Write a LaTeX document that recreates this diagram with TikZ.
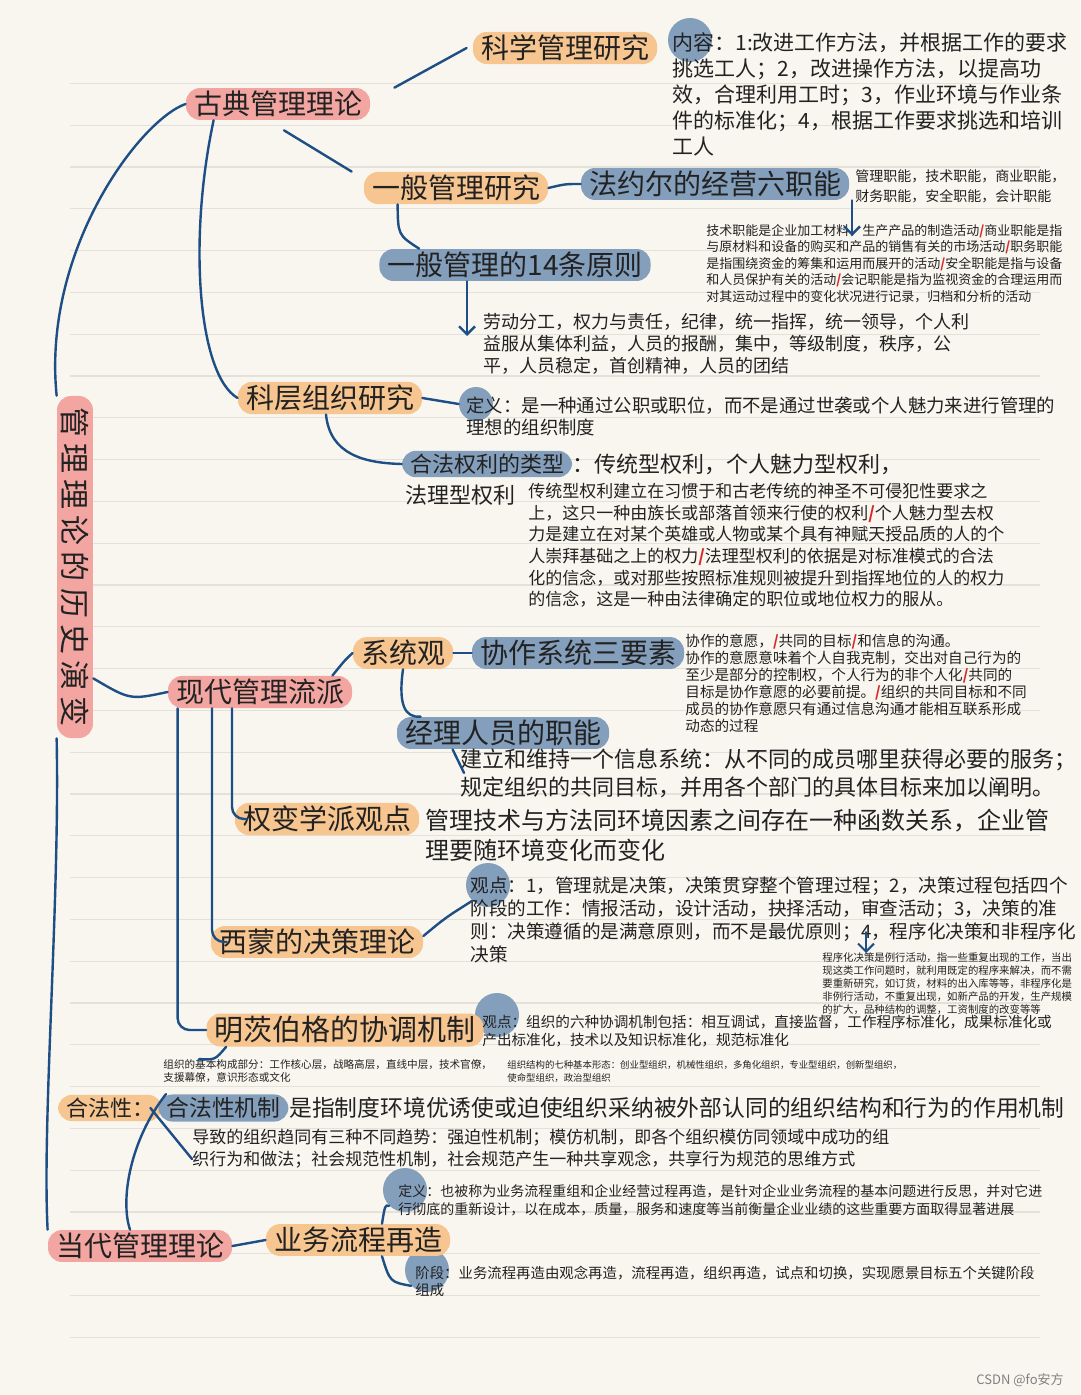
\documentclass[tikz,border=0pt]{standalone}
\usepackage{fontspec}
\setmainfont{Noto Sans CJK SC}
\usepackage{xcolor}
\usetikzlibrary{arrows.meta}
\definecolor{paper}{HTML}{F8F6EE}
\definecolor{ruleline}{HTML}{E3E1DA}
\definecolor{pinkhl}{HTML}{F3A6A1}
\definecolor{orangehl}{HTML}{F6C590}
\definecolor{bluehl}{HTML}{849FBC}
\definecolor{lnblue}{HTML}{1E4E86}
\definecolor{ink}{HTML}{222222}
\definecolor{slashred}{HTML}{D62A2A}
\newcommand{\rs}{\textcolor{slashred}{\textbf{/}}}
\newcommand{\fs}[2]{\fontsize{#1}{#2}\selectfont}

\begin{document}
\begin{tikzpicture}[x=0.5pt, y=-0.5pt,
  hd/.style={rounded corners=7pt, inner xsep=4pt, inner ysep=1.5pt,
             text=ink, font=\fs{14}{14}},
  pk/.style={hd, fill=pinkhl},
  og/.style={hd, fill=orangehl},
  bl/.style={hd, fill=bluehl},
  tx/.style={anchor=north west, inner sep=0pt, align=left, text=ink},
  blob/.style={circle, fill=bluehl, inner sep=0pt, minimum size=22pt},
  ln/.style={draw=lnblue, line width=1.2pt, line cap=round},
  arr/.style={ln, -{Straight Barb[length=4pt,width=8pt]}}]
\useasboundingbox (0,0) rectangle (1080,1395);
\fill[paper] (0,0) rectangle (1080,1395);
\foreach \k in {0,...,30}
  \draw[ruleline, line width=0.6pt] (70,{83.4+41.8*\k}) -- (1040,{83.4+41.8*\k});

% blobs behind the small labels
\node[blob] (nr) at (690,40) {};
\node[blob, minimum size=17pt] (dy1) at (476,404) {};
\node[blob] (gd1) at (488,885) {};
\node[blob] (gd2) at (497,1015) {};
\node[blob] (dy2) at (405,1190) {};
\node[blob] (jd) at (427,1270) {};

\node[pk, rotate=-90, font=\fs{15}{15}\addfontfeatures{LetterSpace=20}, inner xsep=6pt, inner ysep=2pt]
  (title) at (75,567) {管理理论的历史演变};

% classical
\node[pk] (gudian) at (278,104) {古典管理理论};
\node[og] (kexue) at (565,48) {科学管理研究};
\node[tx, font=\fs{10.5}{13}] (nrtext) at (672,32)
  {内容：1:改进工作方法，并根据工作的要求\\挑选工人；2，改进操作方法，以提高功\\效，合理利用工时；3，作业环境与作业条\\件的标准化；4，根据工作要求挑选和培训\\工人};
\node[og] (yiban) at (456,188) {一般管理研究};
\node[bl] (fayol) at (715,184) {法约尔的经营六职能};
\node[tx, font=\fs{7}{10}] (liutext) at (855,169)
  {管理职能，技术职能，商业职能，\\财务职能，安全职能，会计职能};
\node[tx, font=\fs{6.5}{8.2}] (liusmall) at (706,224)
  {技术职能是企业加工材料，生产产品的制造活动\rs 商业职能是指\\与原材料和设备的购买和产品的销售有关的市场活动\rs 职务职能\\是指围绕资金的筹集和运用而展开的活动\rs 安全职能是指与设备\\和人员保护有关的活动\rs 会记职能是指为监视资金的合理运用而\\对其运动过程中的变化状况进行记录，归档和分析的活动};
\node[bl] (yuanze) at (515,265) {一般管理的14条原则};
\node[tx, font=\fs{9}{11}] (yztext) at (483,313)
  {劳动分工，权力与责任，纪律，统一指挥，统一领导，个人利\\益服从集体利益，人员的报酬，集中，等级制度，秩序，公\\平，人员稳定，首创精神，人员的团结};
\node[og] (keceng) at (330,398) {科层组织研究};
\node[tx, font=\fs{9.2}{11}] (dy1text) at (466,397)
  {定义：是一种通过公职或职位，而不是通过世袭或个人魅力来进行管理的\\理想的组织制度};
\node[bl, font=\fs{11}{11}] (hefa) at (487,464) {合法权利的类型};
\node[anchor=west, inner sep=0pt, text=ink, font=\fs{11}{11}] (hefarest) at (hefa.east) {：传统型权利，个人魅力型权利，};
\node[anchor=west, inner sep=0pt, text=ink, font=\fs{11}{11}] (fali) at (405,495) {法理型权利};
\node[tx, font=\fs{8.5}{10.8}] (qltext) at (528,483)
  {传统型权利建立在习惯于和古老传统的神圣不可侵犯性要求之\\上，这只一种由族长或部落首领来行使的权利\rs 个人魅力型去权\\力是建立在对某个英雄或人物或某个具有神赋天授品质的人的个\\人崇拜基础之上的权力\rs 法理型权利的依据是对标准模式的合法\\化的信念，或对那些按照标准规则被提升到指挥地位的人的权力\\的信念，这是一种由法律确定的职位或地位权力的服从。};

% modern
\node[pk] (xiandai) at (260,692) {现代管理流派};
\node[og] (xitong) at (403,653) {系统观};
\node[bl] (xiezuo) at (578,653) {协作系统三要素};
\node[tx, font=\fs{7.3}{8.5}] (xztext) at (685,634)
  {协作的意愿，\rs 共同的目标\rs 和信息的沟通。\\协作的意愿意味着个人自我克制，交出对自己行为的\\至少是部分的控制权，个人行为的非个人化\rs 共同的\\目标是协作意愿的必要前提。\rs 组织的共同目标和不同\\成员的协作意愿只有通过信息沟通才能相互联系形成\\动态的过程};
\node[bl] (jingli) at (503,733) {经理人员的职能};
\node[tx, font=\fs{11}{14}] (jltext) at (460,748)
  {建立和维持一个信息系统：从不同的成员哪里获得必要的服务；\\规定组织的共同目标，并用各个部门的具体目标来加以阐明。};
\node[og] (quanbian) at (327,819) {权变学派观点};
\node[tx, font=\fs{12}{15}] (qbtext) at (425,809)
  {管理技术与方法同环境因素之间存在一种函数关系，企业管\\理要随环境变化而变化};
\node[og] (ximeng) at (317,942) {西蒙的决策理论};
\node[tx, font=\fs{9.3}{11.5}] (gd1text) at (470,876)
  {观点：1，管理就是决策，决策贯穿整个管理过程；2，决策过程包括四个\\阶段的工作：情报活动，设计活动，抉择活动，审查活动；3，决策的准\\则：决策遵循的是满意原则，而不是最优原则；4，程序化决策和非程序化\\决策};
\node[tx, font=\fs{5.2}{6.6}] (cxtext) at (822,952)
  {程序化决策是例行活动，指一些重复出现的工作，当出\\现这类工作问题时，就利用既定的程序来解决，而不需\\要重新研究，如订货，材料的出入库等等，非程序化是\\非例行活动，不重复出现，如新产品的开发，生产规模\\的扩大，品种结构的调整，工资制度的改变等等};
\node[og, font=\fs{14.5}{14.5}] (mintz) at (345,1030) {明茨伯格的协调机制};
\node[tx, font=\fs{7.3}{9}] (gd2text) at (482,1015)
  {观点：组织的六种协调机制包括：相互调试，直接监督，工作程序标准化，成果标准化或\\产出标准化，技术以及知识标准化，规范标准化};
\node[tx, font=\fs{5.3}{6.5}] (jiben) at (163,1059)
  {组织的基本构成部分：工作核心层，战略高层，直线中层，技术官僚，\\支援幕僚，意识形态或文化};
\node[tx, font=\fs{4.7}{6.5}] (xingtai) at (507,1060)
  {组织结构的七种基本形态：创业型组织，机械性组织，多角化组织，专业型组织，创新型组织，\\使命型组织，政治型组织};

% contemporary
\node[og, font=\fs{11}{11}] (hefaxing) at (110,1108) {合法性：};
\node[bl, font=\fs{11.4}{11.4}, anchor=west] (hfjz) at (158,1108) {合法性机制};
\node[anchor=west, inner sep=0pt, text=ink, font=\fs{11.4}{11.4}] (hfrest) at (hfjz.east)
  {是指制度环境优诱使或迫使组织采纳被外部认同的组织结构和行为的作用机制};
\node[tx, font=\fs{8.5}{11}] (qushi) at (192,1129)
  {导致的组织趋同有三种不同趋势：强迫性机制；模仿机制，即各个组织模仿同领域中成功的组\\织行为和做法；社会规范性机制，社会规范产生一种共享观念，共享行为规范的思维方式};
\node[pk] (dangdai) at (140,1246) {当代管理理论};
\node[og] (yewu) at (358,1240) {业务流程再造};
\node[tx, font=\fs{7}{9}] (dy2text) at (398,1184)
  {定义：也被称为业务流程重组和企业经营过程再造，是针对企业业务流程的基本问题进行反思，并对它进\\行彻底的重新设计，以在成本，质量，服务和速度等当前衡量企业业绩的这些重要方面取得显著进展};
\node[tx, font=\fs{7.2}{8.5}] (jdtext) at (415,1266)
  {阶段：业务流程再造由观念再造，流程再造，组织再造，试点和切换，实现愿景目标五个关键阶段\\组成};
\node[text=gray, font=\fs{6.5}{6.5}] (wm) at (1020,1380) {CSDN @fo安方};

\coordinate (a1) at (852,236);
\coordinate (a2) at (467,336);
\coordinate (a3s) at (866,932);
\coordinate (a3) at (866,953);

\draw[ln] (title.south west) .. controls (42,250) and (140,120) .. (gudian.west);
\draw[ln] (title.south east) .. controls (60,900) and (42,1120) .. (dangdai.north west);
\draw[ln] ([yshift=30pt]title.north east) .. controls (130,700) .. (xiandai.west);
\draw[ln] ([xshift=12pt]gudian.north east) -- ([xshift=-3pt]kexue.west);
\draw[ln] ([xshift=3pt,yshift=-5pt]gudian.south) -- ([xshift=-6pt]yiban.north west);
\draw[ln] ([xshift=14pt]gudian.south west) .. controls (188,240) and (198,375) .. (keceng.west);
\draw[ln] (yiban.east) .. controls (565,184) .. (fayol.west);
\draw[ln] ([xshift=17pt]yiban.south west) .. controls (398,235) .. ([xshift=20pt]yuanze.north west);
\draw[arr] (a1 |- fayol.south) -- (a1);
\draw[arr] (a2 |- yuanze.south) -- (a2);
\draw[ln] (keceng.east) -- (dy1.west);
\draw[ln] ([xshift=-2pt]keceng.south) .. controls (330,455) and (365,463) .. (hefa.west);
\draw[ln] ([xshift=-10pt]xiandai.north east) .. controls (345,660) .. (xitong.west);
\draw[ln] (xitong.east) -- (xiezuo.west);
\draw[ln] (xitong.south) .. controls (398,705) and (405,718) .. ([xshift=12pt]jingli.north west);
\draw[ln] ([xshift=28pt]jingli.south west) -- ([xshift=2pt]jltext.west);
\draw[ln, rounded corners=6pt] ([xshift=-14pt]xiandai.south) |- ([xshift=6pt]quanbian.west);
\draw[ln, rounded corners=6pt] ([xshift=-24pt]xiandai.south) |- ([xshift=8pt]ximeng.west);
\draw[ln, rounded corners=6pt] ([xshift=5pt]xiandai.south west) |- (mintz.west);
\draw[ln] ([yshift=3pt]ximeng.east) .. controls (445,918) .. (gd1.south west);
\draw[arr, line width=1pt] (a3s) -- (a3);
\draw[ln] ([xshift=10pt]mintz.south west) .. controls (215,1060) .. ([xshift=18pt]jiben.north west);
\draw[ln] ([xshift=-6pt]hefaxing.east) -- ([yshift=-5pt]qushi.west);
\draw[ln] ([xshift=4pt]hfjz.north west) .. controls (130,1140) and (120,1200) .. ([xshift=-5pt]dangdai.north);
\draw[ln] (dangdai.east) -- (yewu.west);
\draw[ln] ([xshift=12pt]yewu.north) .. controls (385,1205) .. (dy2.south west);
\draw[ln] ([xshift=12pt]yewu.south) .. controls (390,1282) .. (jd.south west);
\end{tikzpicture}
\end{document}
